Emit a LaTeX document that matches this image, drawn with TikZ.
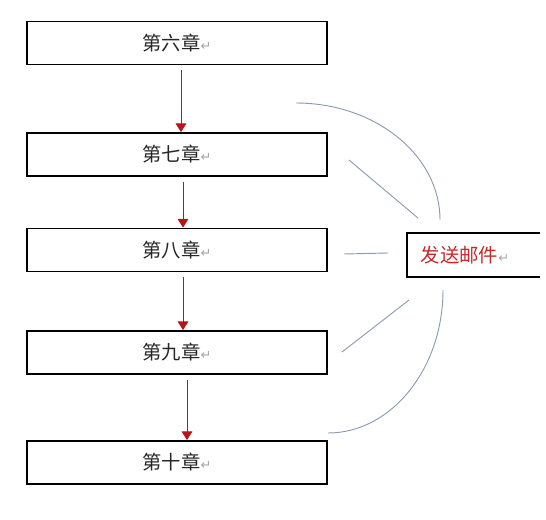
\documentclass[tikz,border=0pt]{standalone}
\usepackage{fontspec}
\usepackage{xcolor}
\usepackage{tikz}
\usetikzlibrary{arrows.meta,positioning}
\newfontfamily\cjk{Noto Sans CJK SC}
\newfontfamily\markfont{DejaVu Sans}
\definecolor{chaptext}{RGB}{38, 38, 38}
\definecolor{mailred}{RGB}{200, 40, 40}
\definecolor{arrowred}{RGB}{185, 20, 25}
\definecolor{linkgray}{RGB}{140, 155, 178}
\definecolor{markgray}{RGB}{165, 165, 165}
\newcommand{\retmark}{{\markfont\color{markgray}\fontsize{11}{13}\selectfont ↵}}

\begin{document}
\begin{tikzpicture}[x=0.03cm, y=-0.03cm,
  chapbox/.style={rectangle, draw=black, line width=1.3pt, fill=white, minimum width=9cm, minimum height=1.3cm, text=chaptext, font=\cjk\fontsize{16.5}{19}\selectfont},
  mailbox/.style={rectangle, minimum height=1.32cm, text width=3.15cm, inner xsep=0.42cm, align=left, text=mailred, font=\cjk\fontsize{16.5}{19}\selectfont},
  chaparrow/.style={arrowred, line width=0.8pt, -{Triangle[width=0.32cm, length=0.26cm]}, shorten <=0.15cm},
  link/.style={linkgray, line width=0.8pt}]
  \useasboundingbox (0,0) rectangle (546,520);
  \node[chapbox] (ch6) at (177, 43) {第六章\retmark};
  \node[chapbox] (ch7) at (177, 154.5) {第七章\retmark};
  \node[chapbox] (ch8) at (177, 250) {第八章\retmark};
  \node[chapbox] (ch9) at (177, 352.5) {第九章\retmark};
  \node[chapbox] (ch10) at (177, 462.5) {第十章\retmark};
  \node[mailbox] (mail) at (473.5, 255) {发送邮件\retmark};
  \draw[black, line width=1.3pt] (mail.north east) -- (mail.north west) -- (mail.south west) -- (mail.south east);
  \foreach \a/\b/\dx in {ch6/ch7/4, ch7/ch8/6, ch8/ch9/6, ch9/ch10/10} {
    \draw[chaparrow] ([xshift=\dx*0.03cm]\a.south) -- ([xshift=\dx*0.03cm]\b.north);
  }
  \coordinate (l6a) at (296, 103);
  \coordinate (l6b) at (440, 220);
  \coordinate (l7a) at (349, 160);
  \coordinate (l7b) at (418, 218);
  \coordinate (l8a) at (344, 254);
  \coordinate (l8b) at (388, 253);
  \coordinate (l9a) at (342, 352);
  \coordinate (l9b) at (409, 300);
  \coordinate (l10a) at (443, 290);
  \coordinate (l10b) at (328, 433);
  \draw[link] (l6a) .. controls (375, 103) and (440, 155) .. (l6b);
  \draw[link] (l7a) -- (l7b);
  \draw[link] (l8a) -- (l8b);
  \draw[link] (l9a) -- (l9b);
  \draw[link] (l10a) .. controls (443, 369) and (391, 433) .. (l10b);
\end{tikzpicture}
\end{document}
